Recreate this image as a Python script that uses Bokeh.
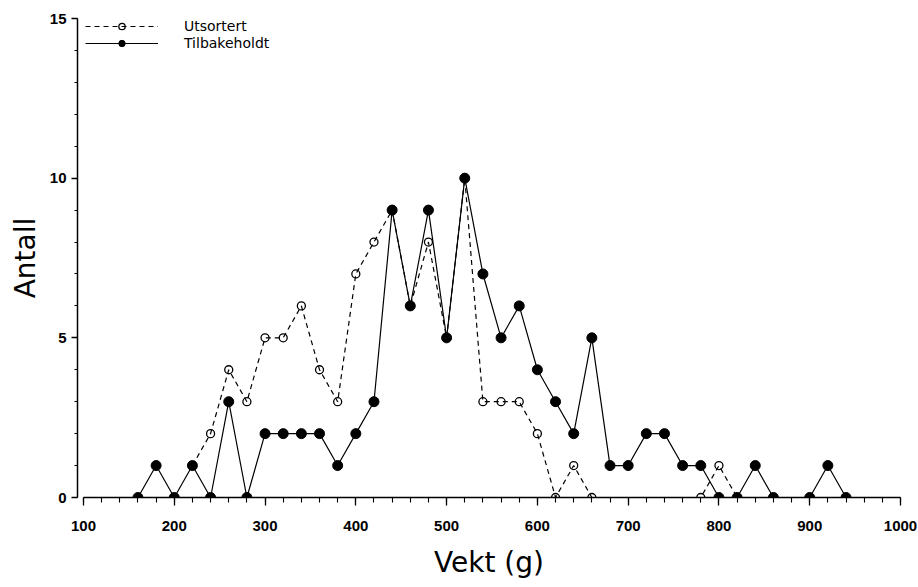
from bokeh.plotting import figure
from bokeh.models import FixedTicker, Legend, LegendItem, Range1d
from bokeh.embed import file_html
from bokeh.resources import INLINE

# Data
ut_x = [220, 240, 260, 280, 300, 320, 340, 360, 380, 400, 420, 440, 460, 480,
        500, 520, 540, 560, 580, 600, 620, 640, 660, 780, 800, 820]
ut_y = [1, 2, 4, 3, 5, 5, 6, 4, 3, 7, 8, 9, 6, 8,
        5, 10, 3, 3, 3, 2, 0, 1, 0, 0, 1, 0]

tb_x = [160, 180, 200, 220, 240, 260, 280, 300, 320, 340, 360, 380, 400, 420,
        440, 460, 480, 500, 520, 540, 560, 580, 600, 620, 640, 660, 680, 700,
        720, 740, 760, 780, 800, 820, 840, 860, 900, 920, 940]
tb_y = [0, 1, 0, 1, 0, 3, 0, 2, 2, 2, 2, 1, 2, 3,
        9, 6, 9, 5, 10, 7, 5, 6, 4, 3, 2, 5, 1, 1,
        2, 2, 1, 1, 0, 0, 1, 0, 0, 1, 0]

x_major = [100, 200, 300, 400, 500, 600, 700, 800, 900, 1000]
x_minor = [v for v in range(100, 1001, 20)]
y_major = [0, 5, 10, 15]
y_minor = list(range(0, 16))

labels = ["Utsortert", "Tilbakeholdt"]

p = figure(width=918, height=587, output_backend="svg", toolbar_location=None,
           x_range=Range1d(93.4, 1000), y_range=Range1d(0, 15),
           min_border_left=77, min_border_right=18, min_border_top=18,
           min_border_bottom=90)
p.outline_line_color = None
p.xgrid.visible = False
p.ygrid.visible = False
p.background_fill_color = "white"
p.border_fill_color = "white"

l1 = p.line(ut_x, ut_y, line_color="black", line_width=1.2, line_dash="5 4")
s1 = p.scatter(ut_x, ut_y, marker="circle", size=8, fill_color=None,
               line_color="black", line_width=1.3)
l2 = p.line(tb_x, tb_y, line_color="black", line_width=1.2)
s2 = p.scatter(tb_x, tb_y, marker="circle", size=10, fill_color="black",
               line_color="black")

xa = p.xaxis[0]
xa.ticker = FixedTicker(ticks=x_major, minor_ticks=x_minor)
xa.bounds = (100, 1000)
xa.axis_line_width = 1.5
xa.axis_line_color = "black"
xa.major_tick_out = 8
xa.major_tick_in = 0
xa.minor_tick_out = 5
xa.minor_tick_in = 0
xa.major_tick_line_width = 1.3
xa.minor_tick_line_width = 1.1
xa.major_tick_line_color = "black"
xa.minor_tick_line_color = "black"
xa.major_label_text_font = "Liberation Sans"
xa.major_label_text_font_style = "bold"
xa.major_label_text_font_size = "15px"
xa.major_label_text_color = "black"
xa.major_label_standoff = 15
xa.axis_label = "Vekt (g)"
xa.axis_label_text_font = "DejaVu Sans"
xa.axis_label_text_font_style = "normal"
xa.axis_label_text_font_size = "28px"
xa.axis_label_text_color = "black"
xa.axis_label_standoff = 12

ya = p.yaxis[0]
ya.ticker = FixedTicker(ticks=y_major, minor_ticks=y_minor)
ya.bounds = (0, 15)
ya.axis_line_width = 1.5
ya.axis_line_color = "black"
ya.major_tick_out = 6
ya.major_tick_in = 0
ya.minor_tick_out = 3
ya.minor_tick_in = 0
ya.major_tick_line_width = 1.3
ya.major_tick_line_color = "black"
ya.minor_tick_line_color = "black"
ya.major_label_text_font = "Liberation Sans"
ya.major_label_text_font_style = "bold"
ya.major_label_text_font_size = "15px"
ya.major_label_text_color = "black"
ya.major_label_standoff = 5
ya.axis_label = "Antall"
ya.axis_label_text_font = "DejaVu Sans"
ya.axis_label_text_font_style = "normal"
ya.axis_label_text_font_size = "28px"
ya.axis_label_text_color = "black"
ya.axis_label_standoff = 5

legend = Legend(items=[LegendItem(label=labels[0], renderers=[l1, s1]),
                       LegendItem(label=labels[1], renderers=[l2, s2])],
                location=(8, 446), orientation="vertical")
legend.glyph_width = 73
legend.glyph_height = 16
legend.label_height = 16
legend.spacing = 1
legend.padding = 0
legend.margin = 0
legend.label_standoff = 26
legend.label_text_font = "DejaVu Sans"
legend.label_text_font_size = "14px"
legend.label_text_color = "black"
legend.border_line_color = None
legend.background_fill_alpha = 0
p.add_layout(legend)

open("out.html", "w").write(file_html(p, INLINE))
